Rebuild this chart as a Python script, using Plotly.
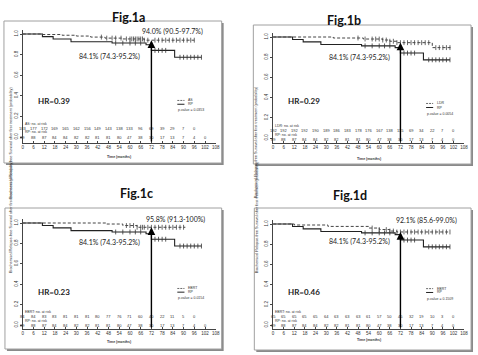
import plotly.graph_objects as go

W, H = 478, 355

# ---------------- data ----------------
MONTHS = [0, 6, 12, 18, 24, 30, 36, 42, 48, 54, 60, 66, 72, 78, 84, 90, 96, 102, 108]
Y_TICKS = [0.0, 0.2, 0.4, 0.6, 0.8, 1.0]
Y_TICK_LABELS = ["0.0", "0.2", "0.4", "0.6", "0.8", "1.0"]

PANEL_TITLES = ["Fig.1a", "Fig.1b", "Fig.1c", "Fig.1d"]
GROUP_NAMES = ["AS", "LDR", "EBRT", "EBRT"]
P_VALUES = ["0.0353", "0.0054", "0.0154", "0.1509"]
HR_VALUES = ["0.39", "0.29", "0.23", "0.46"]
RATE_72 = [94.0, 94.4, 95.8, 92.1]
CI_72 = ["90.5-97.7", "90.6-98.3", "91.3-100", "85.6-99.0"]
RP_RATE_72 = 84.1
RP_CI_72 = "74.3-95.2"

# Reference group: RP (solid line), same in every panel
RP_T = [0, 11, 17, 27, 50, 69, 72, 85, 100]
RP_S = [1.0, 0.975, 0.952, 0.925, 0.912, 0.895, 0.841, 0.774, 0.774]
RP_CENS = [52, 56, 60, 63, 66, 74, 76, 78, 80, 88, 90, 92, 94, 96, 98, 100]
RP_RISK = [89, 88, 87, 84, 84, 82, 82, 81, 81, 80, 47, 38, 30, 17, 13, 7, 4, 0]

# Comparison groups (dashed line)
AS_T = [0, 10, 22, 30, 38, 46, 56, 68, 96]
AS_S = [1.0, 0.995, 0.988, 0.98, 0.97, 0.96, 0.952, 0.94, 0.94]
AS_CENS = [44, 47, 50, 52, 55, 58, 60, 61, 62, 63, 64, 65, 66, 67, 68, 70, 74, 76,
           78, 80, 82, 84, 86, 88, 90, 92, 94, 96]
AS_RISK = [183, 177, 172, 169, 165, 162, 156, 149, 143, 138, 133, 96, 69, 39, 29, 7, 0]

LDR_T = [0, 34, 51, 62, 66, 70, 90, 101]
LDR_S = [1.0, 0.99, 0.98, 0.97, 0.958, 0.944, 0.895, 0.895]
LDR_CENS = [48, 52, 56, 58, 60, 62, 64, 66, 68, 70, 72, 74, 76, 78, 80, 82, 84, 86,
            88, 92, 94, 96, 98, 100]
LDR_RISK = [192, 192, 192, 192, 190, 189, 186, 183, 178, 176, 167, 138, 115, 69, 34, 22, 7, 0]

EBRT_C_T = [0, 47, 56, 64, 91]
EBRT_C_S = [1.0, 0.99, 0.975, 0.958, 0.958]
EBRT_C_CENS = [58, 60, 62, 64, 66, 67, 68, 70, 72, 74, 76, 78, 80, 82, 84, 86, 88, 90]
EBRT_C_RISK = [84, 84, 83, 83, 81, 81, 81, 80, 77, 76, 71, 60, 40, 22, 11, 5, 0]

EBRT_D_T = [0, 12, 31, 54, 60, 66, 70, 100]
EBRT_D_S = [1.0, 0.99, 0.976, 0.96, 0.945, 0.93, 0.921, 0.921]
EBRT_D_CENS = [56, 60, 64, 66, 68, 70, 72, 74, 76, 78, 80, 82, 84, 86, 88, 90, 92, 94,
               96, 98, 100]
EBRT_D_RISK = [65, 65, 65, 65, 65, 64, 63, 63, 63, 61, 57, 50, 45, 32, 19, 10, 3, 0]

GROUPS = [
    (AS_T, AS_S, AS_CENS, AS_RISK),
    (LDR_T, LDR_S, LDR_CENS, LDR_RISK),
    (EBRT_C_T, EBRT_C_S, EBRT_C_CENS, EBRT_C_RISK),
    (EBRT_D_T, EBRT_D_S, EBRT_D_CENS, EBRT_D_RISK),
]

# ---------------- layout geometry (pixels) ----------------
GEOM = [
    dict(title=(110, 8), box=(3, 21, 223, 163), x0=22, x1=217, y1=34, y0=137, top=30, bot=143,
         ytitle=(7, 86), time_py=157,
         hi=(83.6, 1.02), lo=(48.4, 0.777), hr=(17.7, 0.35), leg=(0.355, 0.318, 0.262),
         risk=(0.125, 0.085, 0.052, -0.003)),
    dict(title=(366, 11), box=(255, 25, 475, 164), x0=275, x1=468, y1=37, y0=138, top=33, bot=143,
         ytitle=(258, 85), time_py=159,
         hi=(86.7, 1.046), lo=(49, 0.80), hr=(17.6, 0.37), leg=(0.342, 0.302, 0.24),
         risk=(0.122, 0.075, 0.03, -0.017)),
    dict(title=(118, 193), box=(4, 208, 223, 349), x0=22, x1=217, y1=223, y0=325, top=219, bot=329,
         ytitle=(7, 274), time_py=345,
         hi=(85.3, 1.036), lo=(48.4, 0.807), hr=(17.7, 0.32), leg=(0.358, 0.322, 0.262),
         risk=(0.13, 0.084, 0.038, -0.005)),
    dict(title=(372, 195), box=(256, 208, 475, 350), x0=275, x1=468, y1=224, y0=325, top=220, bot=329,
         ytitle=(259, 274), time_py=343,
         hi=(87, 1.033), lo=(49, 0.825), hr=(17.6, 0.33), leg=(0.36, 0.322, 0.262),
         risk=(0.13, 0.088, 0.042, 0.0)),
]


def fx(px):
    return px / W


def fy(py):
    return 1 - py / H


def step_val(ts, ss, t):
    v = ss[0]
    for ti, si in zip(ts, ss):
        if ti <= t:
            v = si
    return v


TICK_FONT = dict(family="Liberation Sans, Arial", size=4.5, color="#333")
NUM_FONT = dict(family="Liberation Sans, Arial", size=4, color="#333")
SMALL_FONT = dict(family="Liberation Sans, Arial", size=3.5, color="#333")
LABEL_FONT = dict(family="Lato, Open Sans", size=7, color="#222")

fig = go.Figure()
shapes, annotations = [], []

for i, g in enumerate(GEOM):
    n = "" if i == 0 else str(i + 1)
    xa, ya = "x" + n, "y" + n
    slope = g["y0"] - g["y1"]
    ymin = -(g["bot"] - g["y0"]) / slope
    ymax = 1 + (g["y1"] - g["top"]) / slope

    # panel frame with shadow
    bx0, by0, bx1, by1 = g["box"]
    shapes.append(dict(type="rect", xref="paper", yref="paper", layer="below",
                       x0=fx(bx0 + 2), x1=fx(bx1 + 2), y0=fy(by1 + 2), y1=fy(by0 + 2),
                       fillcolor="#8a8a8a", line=dict(width=0)))
    shapes.append(dict(type="rect", xref="paper", yref="paper", layer="below",
                       x0=fx(bx0), x1=fx(bx1), y0=fy(by1), y1=fy(by0),
                       fillcolor="white", line=dict(color="#a0a0a0", width=1)))

    fig.update_layout(**{
        "xaxis" + n: dict(domain=[fx(g["x0"]), fx(g["x1"])], range=[0, 108], anchor=ya,
                          tickvals=MONTHS, ticktext=[str(m) for m in MONTHS],
                          showline=True, linecolor="#444", linewidth=0.8, ticks="inside",
                          ticklen=2, tickcolor="#444", tickfont=TICK_FONT, showgrid=False,
                          zeroline=False, fixedrange=True),
        "yaxis" + n: dict(domain=[fy(g["bot"]), fy(g["top"])], range=[ymin, ymax], anchor=xa,
                          tickvals=Y_TICKS, ticktext=Y_TICK_LABELS, tickangle=-90,
                          showline=True, linecolor="#444", linewidth=0.8, ticks="outside",
                          ticklen=2, tickcolor="#444", tickfont=TICK_FONT, showgrid=False,
                          zeroline=False, fixedrange=True),
    })

    gt, gs, gc, grisk = GROUPS[i]
    # KM curves
    fig.add_trace(go.Scatter(x=RP_T, y=RP_S, mode="lines", line=dict(color="#222", width=1.1, shape="hv"),
                             xaxis=xa, yaxis=ya, showlegend=False, hoverinfo="skip"))
    fig.add_trace(go.Scatter(x=gt, y=gs, mode="lines",
                             line=dict(color="#444", width=1, dash="3px,2px", shape="hv"),
                             xaxis=xa, yaxis=ya, showlegend=False, hoverinfo="skip"))
    # censor marks
    fig.add_trace(go.Scatter(x=RP_CENS, y=[step_val(RP_T, RP_S, t) for t in RP_CENS], mode="markers",
                             marker=dict(symbol="line-ns-open", size=3.5, color="#333",
                                         line=dict(color="#333", width=0.8)),
                             xaxis=xa, yaxis=ya, showlegend=False, hoverinfo="skip"))
    fig.add_trace(go.Scatter(x=gc, y=[step_val(gt, gs, t) for t in gc], mode="markers",
                             marker=dict(symbol="line-ns-open", size=3.5, color="#444",
                                         line=dict(color="#444", width=0.8)),
                             xaxis=xa, yaxis=ya, showlegend=False, hoverinfo="skip"))

    # risk table
    r = g["risk"]
    annotations.append(dict(xref=xa, yref=ya, x=0.5, y=r[0], xanchor="left", showarrow=False,
                            borderpad=0, text=GROUP_NAMES[i] + ": no. at risk", font=SMALL_FONT))
    annotations.append(dict(xref=xa, yref=ya, x=0.5, y=r[2], xanchor="left", showarrow=False,
                            borderpad=0, text="RP: no. at risk", font=SMALL_FONT))
    for k, v in enumerate(grisk):
        annotations.append(dict(xref=xa, yref=ya, x=MONTHS[k], y=r[1], showarrow=False,
                                borderpad=0, text=str(v), font=NUM_FONT))
    for k, v in enumerate(RP_RISK):
        annotations.append(dict(xref=xa, yref=ya, x=MONTHS[k], y=r[3], showarrow=False,
                                borderpad=0, text=str(v), font=NUM_FONT))

    # arrow at 72 months
    annotations.append(dict(xref=xa, yref=ya, axref=xa, ayref=ya, x=72, y=RATE_72[i] / 100,
                            ax=72, ay=ymin, text="", showarrow=True, arrowhead=2, arrowsize=1.1,
                            arrowwidth=1.4, arrowcolor="#000", standoff=0, startstandoff=0))

    # labels
    annotations.append(dict(xref=xa, yref=ya, x=g["hi"][0], y=g["hi"][1], showarrow=False,
                            text=f"{RATE_72[i]:.1f}% ({CI_72[i]}%)", font=LABEL_FONT))
    annotations.append(dict(xref=xa, yref=ya, x=g["lo"][0], y=g["lo"][1], showarrow=False,
                            text=f"{RP_RATE_72:.1f}% ({RP_CI_72}%)", font=LABEL_FONT))
    annotations.append(dict(xref=xa, yref=ya, x=g["hr"][0], y=g["hr"][1], showarrow=False,
                            text="<b>HR=" + HR_VALUES[i] + "</b>",
                            font=dict(family="Lato, Open Sans", size=8, color="#222")))

    # legend
    lg = g["leg"]
    shapes.append(dict(type="line", xref=xa, yref=ya, x0=86.5, x1=90.5, y0=lg[0], y1=lg[0],
                       line=dict(color="#444", width=0.8, dash="2px,1px")))
    shapes.append(dict(type="line", xref=xa, yref=ya, x0=86.5, x1=90.5, y0=lg[1], y1=lg[1],
                       line=dict(color="#222", width=1)))
    annotations.append(dict(xref=xa, yref=ya, x=92, y=lg[0], xanchor="left", showarrow=False,
                            borderpad=0, text=GROUP_NAMES[i], font=SMALL_FONT))
    annotations.append(dict(xref=xa, yref=ya, x=92, y=lg[1], xanchor="left", showarrow=False,
                            borderpad=0, text="RP", font=SMALL_FONT))
    annotations.append(dict(xref=xa, yref=ya, x=86.5, y=lg[2], xanchor="left", showarrow=False,
                            borderpad=0, text="p-value = " + P_VALUES[i], font=SMALL_FONT))

    # axis titles
    annotations.append(dict(xref="paper", yref="paper", x=fx(g["ytitle"][0]), y=fy(g["ytitle"][1]),
                            textangle=-90, showarrow=False, borderpad=0,
                            text="Biochemical Relapse-free Survival after first treatment (probability)",
                            font=dict(family="Liberation Sans, Arial", size=3.8, color="#333")))
    annotations.append(dict(xref=xa, yref="paper", x=54, y=fy(g["time_py"]), showarrow=False,
                            borderpad=0, text="<b>Time (months)</b>", font=SMALL_FONT))

    # panel title
    annotations.append(dict(xref="paper", yref="paper", x=fx(g["title"][0]), y=fy(g["title"][1]),
                            showarrow=False, text="<b>" + PANEL_TITLES[i] + "</b>",
                            font=dict(family="Lato, Open Sans", size=12.5, color="#111")))

fig.update_layout(width=W, height=H, margin=dict(l=0, r=0, t=0, b=0),
                  paper_bgcolor="white", plot_bgcolor="rgba(0,0,0,0)",
                  shapes=shapes, annotations=annotations, showlegend=False)

fig.write_html("out.html", config={"displayModeBar": False})
